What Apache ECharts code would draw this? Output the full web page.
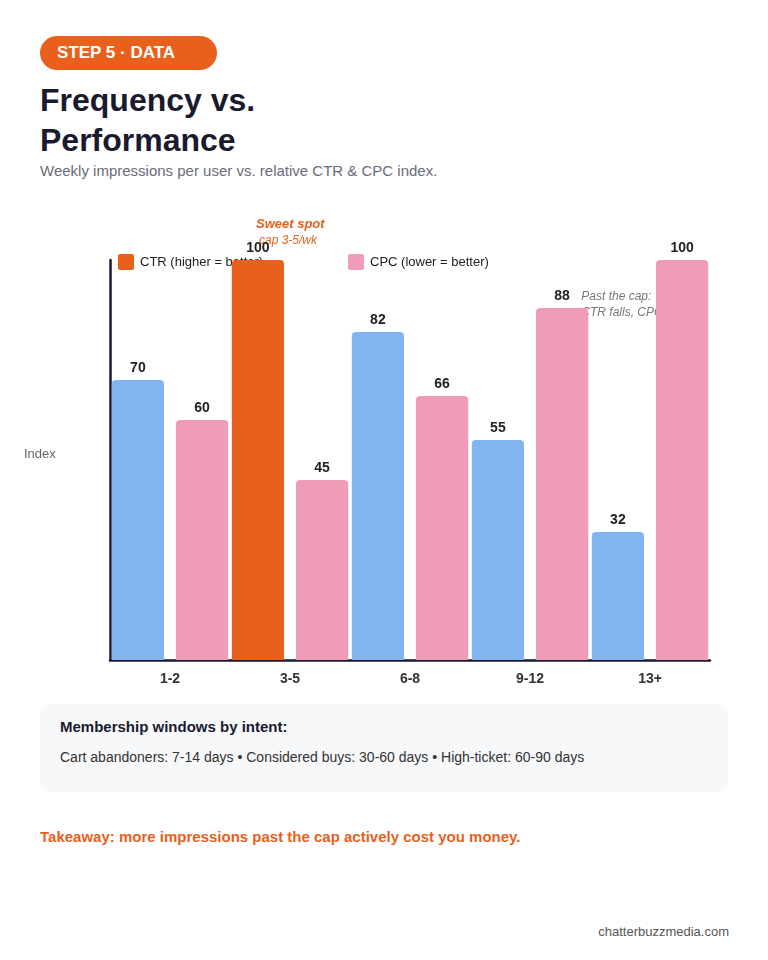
<!DOCTYPE html>
<html><head><meta charset="utf-8">
<script src="https://cdn.jsdelivr.net/npm/echarts@6/dist/echarts.min.js"></script>
<style>
body{margin:0;width:768px;height:960px;background:#fff;font-family:"Liberation Sans",Arial,sans-serif;position:relative;overflow:hidden}
.badge{position:absolute;left:40px;top:36px;width:177px;height:34px;border-radius:17px;background:#e8601c;color:#fff;font-weight:bold;font-size:17px;line-height:34px;box-sizing:border-box;padding-left:17px}
h1{position:absolute;left:40px;top:80px;margin:0;font-size:32px;line-height:40px;color:#1a1a2e;font-weight:bold}
.sub{position:absolute;left:40px;top:162px;font-size:15px;color:#6b6b7b}
#c{position:absolute;left:0;top:200px;width:768px;height:500px}
.box{position:absolute;left:40px;top:704px;width:688px;height:88px;background:#f7f8fa;border-radius:10px}
.box b{position:absolute;left:20px;top:14px;font-size:15px;color:#1a1a2e}
.box span{position:absolute;left:20px;top:45px;font-size:14px;color:#333}
.take{position:absolute;left:40px;top:828px;font-size:15px;font-weight:bold;color:#e8601c}
.foot{position:absolute;right:39px;top:924px;font-size:13px;color:#555}
</style></head><body>
<div class="badge">STEP 5 · DATA</div>
<h1>Frequency vs.<br>Performance</h1>
<div class="sub">Weekly impressions per user vs. relative CTR &amp; CPC index.</div>
<div id="c"></div>
<div class="box"><b>Membership windows by intent:</b><span>Cart abandoners: 7-14 days • Considered buys: 30-60 days • High-ticket: 60-90 days</span></div>
<div class="take">Takeaway: more impressions past the cap actively cost you money.</div>
<div class="foot">chatterbuzzmedia.com</div>
<script>
const categories=['1-2','3-5','6-8','9-12','13+'];
const ctr=[70,100,82,55,32];
const cpc=[60,45,66,88,100];
const highlight=1;
const chart=echarts.init(document.getElementById('c'));
const lbl={show:true,position:'top',fontWeight:'bold',fontSize:14,color:'#222',distance:5,fontFamily:'Liberation Sans'};
chart.setOption({
 animation:false,
 textStyle:{fontFamily:'Liberation Sans'},
 grid:{left:110,right:58,top:60,bottom:40},
 legend:{show:false},
 xAxis:{type:'category',data:categories,axisLine:{lineStyle:{color:'#1a1a2e',width:2.5}},axisTick:{show:false},
  axisLabel:{fontWeight:'bold',fontSize:14,color:'#333',margin:12}},
 yAxis:{type:'value',min:0,max:100,axisLine:{show:true,lineStyle:{color:'#1a1a2e',width:2.5}},splitLine:{show:false},axisLabel:{show:false},axisTick:{show:false}},
 series:[
  {name:'CTR (higher = better)',type:'bar',barGap:'23%',barCategoryGap:'3%',
   data:ctr.map((v,i)=>({value:v,itemStyle:{color:i===highlight?'#e8601c':'#82b5ee'}})),
   itemStyle:{borderRadius:[4,4,0,0]},label:lbl},
  {name:'CPC (lower = better)',type:'bar',data:cpc,itemStyle:{color:'#f09cb8',borderRadius:[4,4,0,0]},label:lbl}
 ],
 graphic:[
  {type:'rect',left:118,top:54,shape:{width:16,height:16,r:2},style:{fill:'#e8601c'}},
  {type:'text',left:140,top:56,style:{text:'CTR (higher = better)',fontSize:13,fill:'#222'}},
  {type:'rect',left:348,top:54,shape:{width:16,height:16,r:2},style:{fill:'#f09cb8'}},
  {type:'text',left:370,top:56,style:{text:'CPC (lower = better)',fontSize:13,fill:'#222'}},
  {type:'text',left:256,top:18,style:{text:'Sweet spot',fontSize:13,fontWeight:'bold',fontStyle:'italic',fill:'#e8601c'}},
  {type:'text',left:259,top:35,style:{text:'cap 3-5/wk',fontSize:12,fontStyle:'italic',fill:'#e8601c'}},
  {type:'text',right:68,top:89,style:{text:'Past the cap:\nCTR falls, CPC climbs',fontSize:12,fontStyle:'italic',fill:'#777',align:'right',lineHeight:16}},
  {type:'text',left:24,top:248,style:{text:'Index',fontSize:13,fill:'#666'}}
 ]
});
</script></body></html>
